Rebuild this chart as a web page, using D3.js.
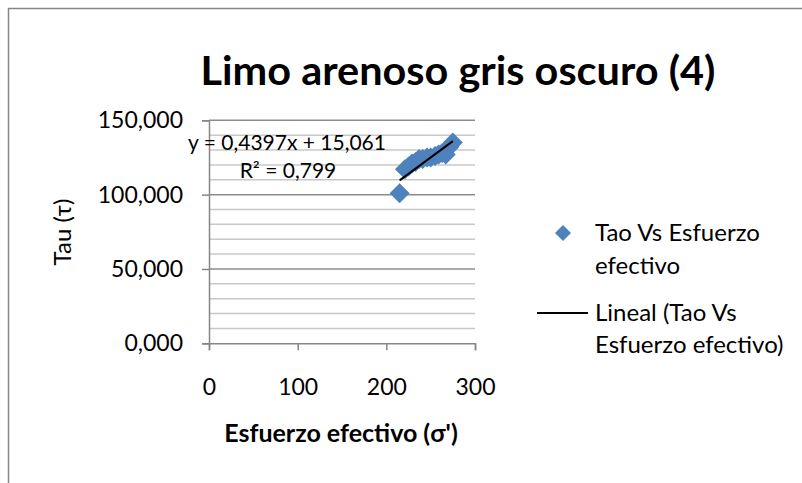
<!DOCTYPE html>
<html>
<head>
<meta charset="utf-8">
<script src="https://cdn.jsdelivr.net/npm/d3@7"></script>
<style>
  body { margin: 0; background: #fff; }
  svg text { font-family: Lato, "Open Sans", sans-serif; fill: #000; }
</style>
</head>
<body>
<div id="chart"></div>
<script>
// datos
const sigma = [215, 221, 225, 229, 233, 237, 241, 246, 250, 255, 259, 263, 267, 271, 275];
const tau   = [101, 117, 119, 121, 122, 124, 124, 125, 125, 126, 127, 128, 127, 132, 135];
const xTicks = [0, 100, 200, 300];
const yTicks = [0, 50, 100, 150];
const yMinor = d3.range(0, 151, 10);
// linea de tendencia (Excel)
const slope = 0.4397, intercept = 15.061;
const eqText = 'y = 0,4397x + 15,061';
const r2Text = 'R² = 0,799';

const W = 802, H = 483;
const svg = d3.select('#chart').append('svg')
    .attr('width', W).attr('height', H);

// borde del area del grafico
svg.append('rect')
    .attr('x', 8.5).attr('y', 8.5)
    .attr('width', 830).attr('height', 520)
    .style('fill', '#fff').style('stroke', '#868686').style('stroke-width', 1.5);

const x = d3.scaleLinear().domain([0, 300]).range([209, 475]);
const y = d3.scaleLinear().domain([0, 150]).range([343.3, 120.3]);

const es = d3.formatLocale({ decimal: ',', thousands: '.', grouping: [3], currency: ['', ''] });
const fmt = es.format('.3f');

// rejilla
svg.append('g').selectAll('line')
    .data(yMinor.filter(v => v % 50 !== 0))
    .enter().append('line')
    .attr('x1', x(0)).attr('x2', x(300))
    .attr('y1', d => y(d)).attr('y2', d => y(d))
    .style('stroke', '#c8c8c8').style('stroke-width', 1.5);

svg.append('g').selectAll('line')
    .data(yTicks.filter(v => v > 0))
    .enter().append('line')
    .attr('x1', x(0)).attr('x2', x(300))
    .attr('y1', d => y(d)).attr('y2', d => y(d))
    .style('stroke', '#8c8c8c').style('stroke-width', 1.5);

// ejes
const yAxis = svg.append('g')
    .attr('transform', `translate(${x(0)},0)`)
    .call(d3.axisLeft(y).tickValues(yTicks).tickFormat(fmt).tickSize(7).tickPadding(19));
const xAxis = svg.append('g')
    .attr('transform', `translate(0,${y(0)})`)
    .call(d3.axisBottom(x).tickValues(xTicks).tickSize(7).tickPadding(28));
[yAxis, xAxis].forEach(a => {
    a.select('.domain').style('stroke', '#868686').style('stroke-width', 1.5);
    a.selectAll('.tick line').style('stroke', '#868686').style('stroke-width', 1.5);
    a.selectAll('.tick text').style('font-size', '23px').style('font-family', 'Lato, sans-serif');
});

// linea de tendencia
const xr = d3.extent(sigma);

// puntos
const diamond = d3.symbol().type(d3.symbolSquare).size(200);
svg.append('g').selectAll('path')
    .data(sigma.map((s, i) => ({ s, t: tau[i] })))
    .enter().append('path')
    .attr('d', diamond)
    .attr('transform', d => `translate(${x(d.s)},${y(d.t)}) rotate(45)`)
    .style('fill', '#4f81bd');

svg.append('line')
    .attr('x1', x(xr[0])).attr('y1', y(slope * xr[0] + intercept))
    .attr('x2', x(xr[1])).attr('y2', y(slope * xr[1] + intercept))
    .style('stroke', '#000').style('stroke-width', 2);

// ecuacion
svg.append('text').attr('x', 287).attr('y', 150)
    .attr('text-anchor', 'middle').style('font-size', '21px').text(eqText);
svg.append('text').attr('x', 288).attr('y', 178)
    .attr('text-anchor', 'middle').style('font-size', '21px').text(r2Text);

// titulos
svg.append('text').attr('x', 458).attr('y', 85)
    .attr('text-anchor', 'middle')
    .attr('textLength', 515).attr('lengthAdjust', 'spacingAndGlyphs')
    .style('font-size', '41px').style('font-weight', 'bold')
    .text('Limo arenoso gris oscuro (4)');

svg.append('text')
    .attr('transform', 'translate(71,232) rotate(-90)')
    .attr('text-anchor', 'middle').style('font-size', '24px')
    .text('Tau (τ)');

svg.append('text').attr('x', 341).attr('y', 442)
    .attr('text-anchor', 'middle').style('font-size', '25px').style('font-weight', 'bold')
    .text("Esfuerzo efectivo (σ')");

// leyenda
const legend = svg.append('g');
legend.append('path')
    .attr('d', d3.symbol().type(d3.symbolSquare).size(128))
    .attr('transform', 'translate(563,233) rotate(45)')
    .style('fill', '#4f81bd');
legend.append('line')
    .attr('x1', 537).attr('x2', 588).attr('y1', 313).attr('y2', 313)
    .style('stroke', '#000').style('stroke-width', 2);
const legendLines = [
    ['Tao Vs Esfuerzo', 233],
    ['efectivo', 266],
    ['Lineal (Tao Vs', 313],
    ['Esfuerzo efectivo)', 345]
];
legend.selectAll('text.lg')
    .data(legendLines)
    .enter().append('text')
    .attr('class', 'lg')
    .attr('x', 595).attr('y', d => d[1])
    .attr('dy', '0.35em')
    .style('font-size', '24px')
    .text(d => d[0]);
</script>
</body>
</html>
